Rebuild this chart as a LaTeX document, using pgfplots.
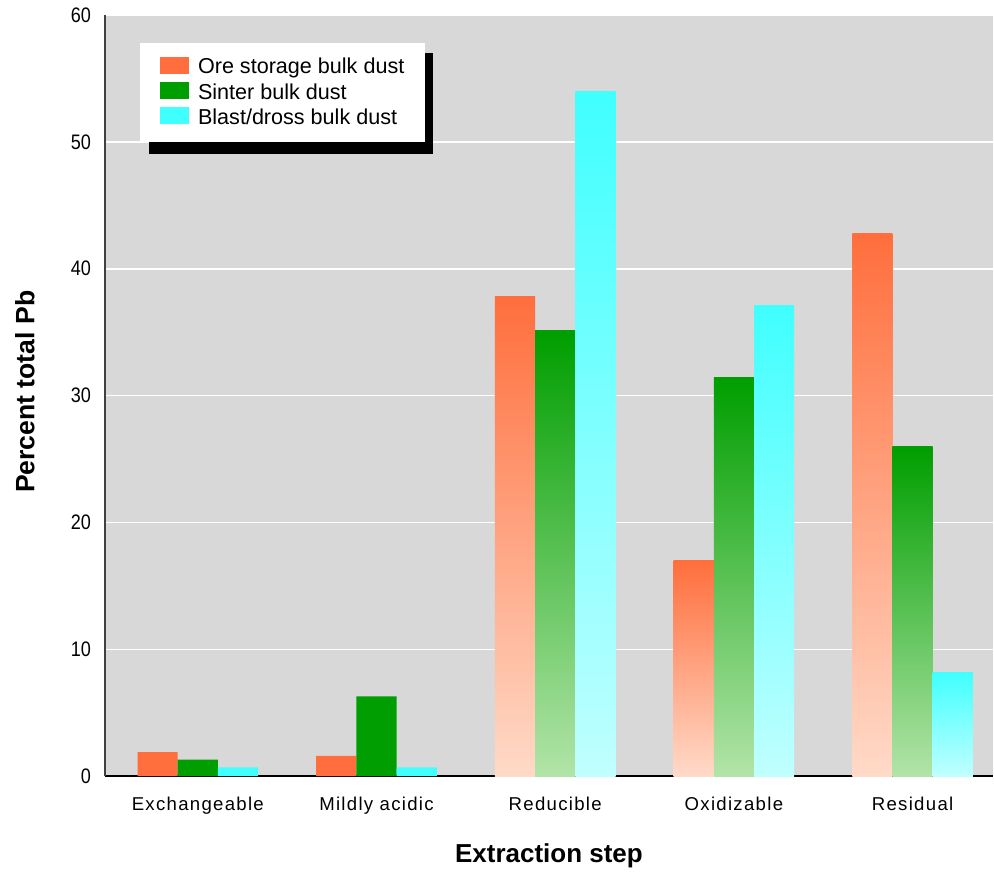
\documentclass[border=0pt]{standalone}
\usepackage{fontspec}
\setmainfont{Liberation Sans}
\newfontfamily\tickfont{Liberation Sans}[LetterSpace=7]
\newfontfamily\numfont{Liberation Sans}[FakeStretch=0.86]
\usepackage{pgfplots}
\pgfplotsset{compat=1.18}

\definecolor{bggray}{RGB}{216,216,216}
\definecolor{oreC}{RGB}{255,110,60}
\definecolor{oreL}{RGB}{255,218,200}
\definecolor{sinC}{RGB}{0,158,0}
\definecolor{sinL}{RGB}{178,228,168}
\definecolor{blaC}{RGB}{64,255,255}
\definecolor{blaL}{RGB}{192,255,255}

% x positions: 0 Exchangeable, 1 Mildly acidic, 2 Reducible, 3 Oxidizable, 4 Residual
\pgfplotstableread{
x y
0 1.9
1 1.6
}\oreSmall
\pgfplotstableread{
x y
0 1.3
1 6.3
}\sinSmall
\pgfplotstableread{
x y
0 0.7
1 0.7
}\blaSmall

\pgfplotsset{
  barO/.style={ybar, bar width=0.225, bar shift=-0.225, draw=none, forget plot},
  barS/.style={ybar, bar width=0.225, bar shift=0, draw=none, forget plot},
  barB/.style={ybar, bar width=0.225, bar shift=0.225, draw=none, forget plot},
}

\begin{document}
\begin{tikzpicture}[x=0.5pt,y=0.5pt]
\begin{axis}[
  scale only axis,
  width=444.5pt, height=381pt,
  at={(0,0)}, anchor=south west,
  xmin=-0.52, xmax=4.45, ymin=0, ymax=60,
  axis background/.style={fill=bggray},
  axis line style={draw=none},
  ytick={0,10,...,60},
  xtick={0,1,2,3,4},
  xticklabels={Exchangeable,Mildly acidic,Reducible,Oxidizable,Residual},
  major tick length=0pt,
  ymajorgrids, grid style={white, line width=0.8pt},
  /pgf/number format/assume math mode=true,
  yticklabel style={font=\numfont\fontsize{10.5}{12}\selectfont, xshift=-3.5pt},
  xticklabel style={font=\tickfont\fontsize{9.3}{11}\selectfont, yshift=-7pt},
  xlabel={Extraction step},
  ylabel={Percent total Pb},
  xlabel style={font=\bfseries\fontsize{13}{15}\selectfont, at={(axis description cs:0.5,-0.105)}, anchor=center},
  ylabel style={font=\bfseries\fontsize{13.3}{15}\selectfont, at={(axis description cs:-0.09,0.505)}, anchor=center},
  legend style={
    at={(axis description cs:0.0619,0.945)}, anchor=north west,
    draw=none, fill=none,
    inner sep=0pt,
    row sep=1.7pt, column sep=4.5pt,
    font=\fontsize{10.8}{12}\selectfont,
    nodes={inner sep=0pt, text height=8pt, text depth=2.5pt},
  },
  legend cell align=left,
  clip=false,
]
% legend box with its shadow
\fill[black] (rel axis cs:0.0495,0.817) rectangle (rel axis cs:0.370,0.950);
\fill[white] (rel axis cs:0.0394,0.833) rectangle (rel axis cs:0.360,0.963);
% legend patches
\addlegendimage{legend image code/.code={\fill[oreC] (0pt,-2.6pt) rectangle (14pt,5.4pt);}}
\addlegendentry{Ore storage bulk dust}
\addlegendimage{legend image code/.code={\fill[sinC] (0pt,-2.6pt) rectangle (14pt,5.4pt);}}
\addlegendentry{Sinter bulk dust}
\addlegendimage{legend image code/.code={\fill[blaC] (0pt,-2.6pt) rectangle (14pt,5.4pt);}}
\addlegendentry{Blast/dross bulk dust}

% bottom and left axis lines
\draw[black, line width=1pt] (rel axis cs:0,0) -- (rel axis cs:1,0);
\draw[black!75, line width=1pt] (rel axis cs:0,0) -- (rel axis cs:0,1);

% short bars: solid fill
\addplot[barO, fill=oreC] table[x=x,y=y] {\oreSmall};
\addplot[barS, fill=sinC] table[x=x,y=y] {\sinSmall};
\addplot[barB, fill=blaC] table[x=x,y=y] {\blaSmall};
% tall bars: each with its own vertical gradient
\addplot[barO, top color=oreC, bottom color=oreL] coordinates {(2,37.8)};
\addplot[barO, top color=oreC, bottom color=oreL] coordinates {(3,17.0)};
\addplot[barO, top color=oreC, bottom color=oreL] coordinates {(4,42.8)};
\addplot[barS, top color=sinC, bottom color=sinL] coordinates {(2,35.1)};
\addplot[barS, top color=sinC, bottom color=sinL] coordinates {(3,31.4)};
\addplot[barS, top color=sinC, bottom color=sinL] coordinates {(4,26.0)};
\addplot[barB, top color=blaC, bottom color=blaL] coordinates {(2,54.0)};
\addplot[barB, top color=blaC, bottom color=blaL] coordinates {(3,37.1)};
\addplot[barB, top color=blaC, bottom color=blaL] coordinates {(4,8.2)};
\end{axis}
% page extent
\path (-105,-96) rectangle (889,777);
\end{tikzpicture}
\end{document}
